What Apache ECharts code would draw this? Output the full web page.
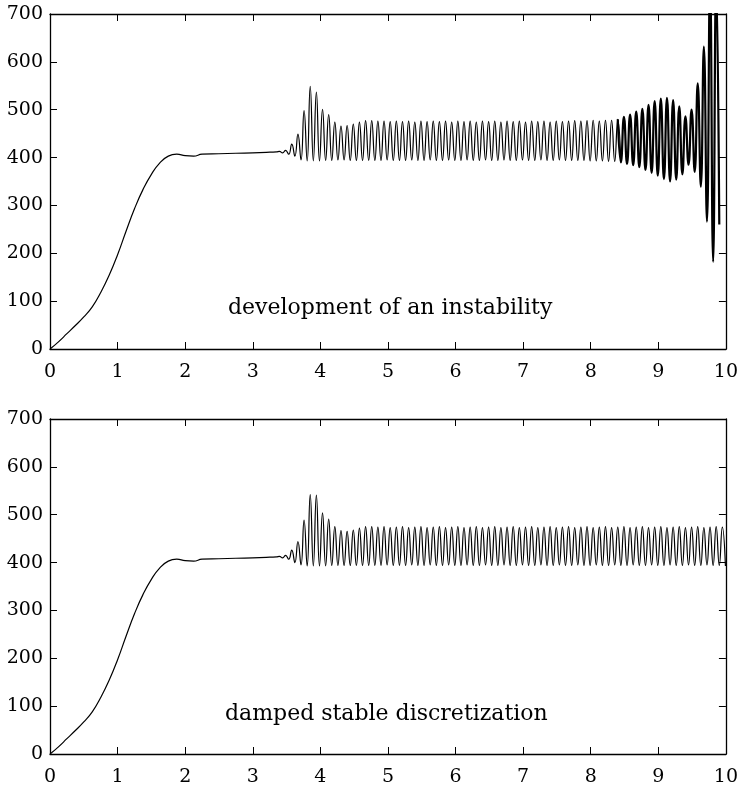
<!DOCTYPE html>
<html>
<head>
<meta charset="utf-8">
<script src="https://cdn.jsdelivr.net/npm/echarts@6/dist/echarts.min.js"></script>
<style>
html,body{margin:0;padding:0;background:#fff;}
#c{width:741px;height:794px;}
</style>
</head>
<body>
<div id="c"></div>
<script>
// ---- data ----
const xTicks = [0,1,2,3,4,5,6,7,8,9,10];
const yTicks = [0,100,200,300,400,500,600,700];

// smooth start-up (both panels)
const riseT = [0, 0.125, 0.25, 0.375, 0.5, 0.625, 0.75, 0.875, 1.0, 1.125, 1.25, 1.375, 1.5, 1.625, 1.75, 1.875, 2.0, 2.125, 2.25, 2.5, 2.75, 3.0, 3.2, 3.35];
const riseV = [0, 15, 32, 49, 67, 88, 118, 154, 197, 246, 293, 333, 365, 389, 403, 407, 404, 403, 407, 408, 409, 410, 411, 412];

// times of the oscillation peaks / troughs (alternating)
const oscT = [
 3.395,3.441,3.486,3.532,3.577,3.623,3.668,3.714,3.759,3.805,
 3.850,3.896,3.941,3.987,4.032,4.078,4.123,4.169,4.214,4.260,
 4.305,4.351,4.396,4.442,4.487,4.533,4.578,4.624,4.669,4.715,
 4.760,4.806,4.851,4.897,4.942,4.988,5.033,5.079,5.124,5.170,
 5.215,5.261,5.306,5.352,5.397,5.443,5.488,5.534,5.579,5.625,
 5.670,5.716,5.761,5.807,5.852,5.898,5.943,5.989,6.034,6.080,
 6.125,6.171,6.216,6.262,6.307,6.353,6.398,6.444,6.489,6.535,
 6.580,6.626,6.671,6.717,6.762,6.808,6.853,6.899,6.944,6.990,
 7.035,7.081,7.126,7.172,7.217,7.263,7.308,7.354,7.399,7.445,
 7.490,7.536,7.581,7.627,7.672,7.718,7.763,7.809,7.854,7.900,
 7.945,7.991,8.036,8.082,8.127,8.173,8.218,8.264,8.309,8.355,
 8.400,8.446,8.491,8.537,8.582,8.628,8.673,8.719,8.764,8.810,
 8.855,8.901,8.946,8.992,9.037,9.083,9.128,9.174,9.219,9.265,
 9.310,9.356,9.401,9.447,9.492,9.538,9.583,9.629,9.674,9.720,
 9.765,9.811,9.856,9.902,9.947,9.993
];

// top panel: development of an instability
const topOscV = [
 413,410,415,407,428,403,449,395,498,393,
 549,393,537,393,501,394,490,394,474,395,
 466,395,467,394,470,394,474,394,477,394,
 477,394,476,394,476,395,475,394,476,394,
 475,394,476,395,474,394,476,394,475,395,
 476,394,475,394,476,395,474,394,476,394,
 475,395,476,394,474,394,476,395,475,394,
 476,394,474,395,476,394,475,394,476,395,
 474,394,476,394,475,395,476,394,474,394,
 476,395,475,394,476,394,477,394,476,394,
 477,393,478,393,476,393,478,392,478,392,
 480,390,485,387,490,384,496,380,502,374,
 510,368,518,362,523,355,525,350,520,354,
 507,365,486,385,500,370,555,339,632,266,
 770,182,770,260
];

// bottom panel: damped stable discretization
const botOscV = [
 413,410,415,407,426,400,444,395,489,393,
 542,393,541,393,504,393,491,394,475,394,
 467,394,465,394,468,394,472,394,475,394,
 475,394,474,394,475,395,473,394,474,394,
 475,394,473,395,474,394,475,394,473,395,
 474,394,475,394,473,395,474,394,475,394,
 473,395,474,394,475,394,473,395,474,394,
 475,394,473,395,474,394,475,394,473,395,
 474,394,475,394,473,395,474,394,475,394,
 473,395,474,394,475,394,473,395,474,394,
 475,394,473,395,474,394,475,394,473,395,
 474,394,475,394,473,395,474,394,475,394,
 473,395,474,394,475,394,473,395,474,394,
 475,394,473,395,474,394,475,394,473,395,
 474,394,475,394,474,393
];

const topNote = "development of an instability";
const botNote = "damped stable discretization";

// ---- build ----
function pairs(ts, vs){ const out=[]; for(let i=0;i<vs.length;i++) out.push([ts[i], vs[i]]); return out; }
const risePts = pairs(riseT, riseV);
const topAll = risePts.concat(pairs(oscT, topOscV));
const botAll = risePts.concat(pairs(oscT, botOscV));
const INSTAB = 8.40;
const topCalm = topAll.filter(p => p[0] <= INSTAB + 0.05);
const topWild = topAll.filter(p => p[0] >= INSTAB);

const FONT = "DejaVu Serif";
const black = '#000';
const GL = 50, GW = 678, GH = 335;
const grids = [ {left:GL, top:14, width:GW, height:GH}, {left:GL, top:419, width:GW, height:GH} ];

function xAx(gi, pos){
  return {type:'value', gridIndex:gi, position:pos, min:0, max:10, interval:1,
    axisLine:{show:true, onZero:false, lineStyle:{color:black, width:1.3}},
    axisTick:{show:true, inside:true, length:7, lineStyle:{color:black, width:1}},
    axisLabel:{show:pos==='bottom', margin:14, color:black, fontFamily:FONT, fontSize:19},
    splitLine:{show:false}};
}
function yAx(gi, pos){
  return {type:'value', gridIndex:gi, position:pos, min:0, max:700, interval:100,
    axisLine:{show:true, onZero:false, lineStyle:{color:black, width:1.3}},
    axisTick:{show:true, inside:true, length:7, lineStyle:{color:black, width:1}},
    axisLabel:{show:pos==='left', margin:7, color:black, fontFamily:FONT, fontSize:19},
    splitLine:{show:false}};
}
function line(xi, yi, data, w){
  return {type:'line', xAxisIndex:xi, yAxisIndex:yi, data:data, smooth:0.5, symbol:'none',
    clip:true, animation:false, lineStyle:{color:black, width:w}};
}

const chart = echarts.init(document.getElementById('c'), null, {renderer:'canvas'});
chart.setOption({
  backgroundColor:'#fff',
  animation:false,
  grid: grids,
  xAxis: [xAx(0,'bottom'), xAx(0,'top'), xAx(1,'bottom'), xAx(1,'top')],
  yAxis: [yAx(0,'left'), yAx(0,'right'), yAx(1,'left'), yAx(1,'right')],
  series: [
    line(0,0,topCalm,1.2),
    line(0,0,topWild,2.2),
    line(2,2,botAll,1.2)
  ],
  graphic: [
    {type:'text', left:228, top:297, style:{text:topNote, fontFamily:FONT, fontSize:22, fill:black}},
    {type:'text', left:225, top:703, style:{text:botNote, fontFamily:FONT, fontSize:22, fill:black}}
  ]
});
</script>
</body>
</html>
